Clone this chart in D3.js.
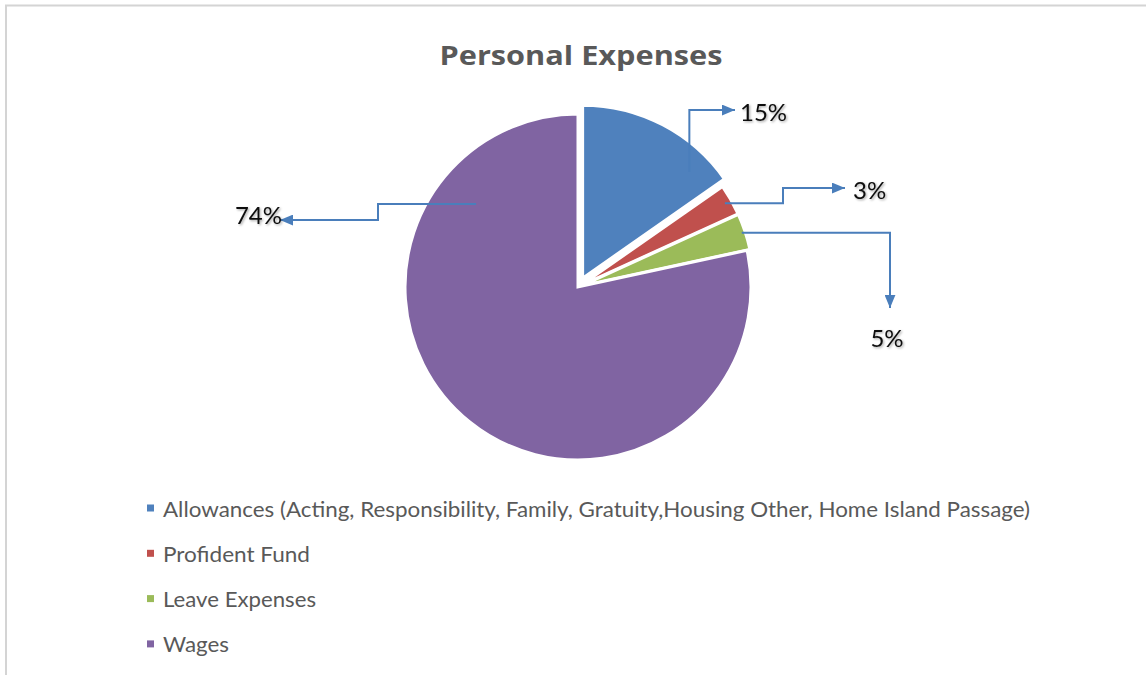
<!DOCTYPE html>
<html>
<head>
<meta charset="utf-8">
<script src="https://cdn.jsdelivr.net/npm/d3@7"></script>
<style>
  html, body { margin: 0; padding: 0; background: #fff; }
  svg { display: block; }
</style>
</head>
<body>
<svg id="chart" width="1146" height="675"></svg>
<script>
// ---- data ----
const title = "Personal Expenses";
const categories = [
  "Allowances (Acting, Responsibility, Family, Gratuity,Housing Other, Home Island Passage)",
  "Profident Fund",
  "Leave Expenses",
  "Wages"
];
const values = [15.3, 2.9, 3.4, 78.4];
const dataLabels = ["15%", "3%", "5%", "74%"];
const colors = ["#4F81BD", "#C0504D", "#9BBB59", "#8064A2"];

// ---- layout ----
const W = 1146, H = 675;
const cx = 578, cy = 287, R = 173;
const explode = [10, 3, 3, 0];
// leader start: fraction along slice angle, fraction of radius
const leaderStart = [[0.82, 0.87], [0.5, 0.96], [0.5, 0.98], [0.82, 0.76]];
// leader elbows relative to pie centre
const leaderOps = [
  [["V", -177], ["H", 157]],
  [["H", 205], ["V", -99], ["H", 267]],
  [["H", 312], ["V", 21]],
  [["H", -200], ["V", -67], ["H", -298]]
];
const labelPos = [
  { x: 162, y: -176, a: "start" },
  { x: 275, y: -98, a: "start" },
  { x: 309, y: 50, a: "middle" },
  { x: -296, y: -73, a: "end" }
];
const legendWidths = [867, 147, 153, 66];
const leaderColor = "#4A7EBB";

const svg = d3.select("#chart");
const defs = svg.append("defs");
defs.append("marker")
  .attr("id", "arrow").attr("viewBox", "0 0 12 10")
  .attr("refX", 12).attr("refY", 5)
  .attr("markerUnits", "userSpaceOnUse")
  .attr("markerWidth", 13).attr("markerHeight", 11)
  .attr("orient", "auto")
  .append("path").attr("d", "M0,0 L12,5 L0,10 Z").attr("fill", leaderColor);
const f = defs.append("filter").attr("id", "shadow")
  .attr("x", "-20%").attr("y", "-20%").attr("width", "140%").attr("height", "140%");
f.append("feDropShadow").attr("dx", 1.2).attr("dy", 1.2).attr("stdDeviation", 1)
  .attr("flood-color", "#000").attr("flood-opacity", 0.35);

// background & border
svg.append("rect").attr("width", W).attr("height", H).attr("fill", "#fff");
svg.append("path")
  .attr("d", `M6,${H} L6,5.5 L${W},5.5`)
  .attr("fill", "none").attr("stroke", "#d4d4d4").attr("stroke-width", 2);

// title
svg.append("text")
  .attr("x", 581).attr("y", 54)
  .attr("text-anchor", "middle").attr("dominant-baseline", "central")
  .attr("font-family", "'Open Sans', sans-serif").attr("font-weight", "bold")
  .attr("font-size", 27).attr("fill", "#595959")
  .attr("textLength", 283).attr("lengthAdjust", "spacingAndGlyphs")
  .text(title);

// pie
const pie = d3.pie().sort(null).value(d => d).startAngle(0).endAngle(2 * Math.PI);
const arcs = pie(values);
const arc = d3.arc().innerRadius(0).outerRadius(R);
const g = svg.append("g").attr("transform", `translate(${cx},${cy})`);

function offsetOf(i) {
  const a = (arcs[i].startAngle + arcs[i].endAngle) / 2;
  return [Math.sin(a) * explode[i], -Math.cos(a) * explode[i]];
}

g.selectAll("path.slice").data(arcs).enter().append("path")
  .attr("class", "slice")
  .attr("transform", (d, i) => { const o = offsetOf(i); return `translate(${o[0]},${o[1]})`; })
  .attr("d", arc)
  .attr("fill", (d, i) => colors[i])
  .attr("stroke", "#fff").attr("stroke-width", 3).attr("stroke-linejoin", "miter");

// leaders
arcs.forEach((d, i) => {
  const o = offsetOf(i);
  const ang = d.startAngle + (d.endAngle - d.startAngle) * leaderStart[i][0];
  const r = R * leaderStart[i][1];
  let x = Math.sin(ang) * r + o[0], y = -Math.cos(ang) * r + o[1];
  let p = `M${x},${y}`;
  leaderOps[i].forEach(([op, v]) => {
    if (op === "H") { x = v; } else { y = v; }
    p += ` L${x},${y}`;
  });
  g.append("path").attr("d", p)
    .attr("fill", "none").attr("stroke", leaderColor).attr("stroke-width", 2)
    .attr("marker-end", "url(#arrow)");
  g.append("text")
    .attr("x", labelPos[i].x).attr("y", labelPos[i].y)
    .attr("text-anchor", labelPos[i].a).attr("dominant-baseline", "central")
    .attr("font-family", "Lato, sans-serif").attr("font-size", 24)
    .attr("fill", "#111").attr("filter", "url(#shadow)")
    .text(dataLabels[i]);
});

// legend
const legendX = 147, legendY0 = 508, legendStep = 45.3;
const lg = svg.append("g");
categories.forEach((c, i) => {
  const y = legendY0 + i * legendStep;
  lg.append("rect").attr("x", legendX).attr("y", y - 3.5).attr("width", 7).attr("height", 7)
    .attr("fill", colors[i]);
  lg.append("text").attr("x", legendX + 16).attr("y", y)
    .attr("dominant-baseline", "central")
    .attr("font-family", "Lato, sans-serif").attr("font-size", 21)
    .attr("fill", "#595959")
    .attr("textLength", legendWidths[i]).attr("lengthAdjust", "spacingAndGlyphs")
    .text(c);
});
</script>
</body>
</html>
